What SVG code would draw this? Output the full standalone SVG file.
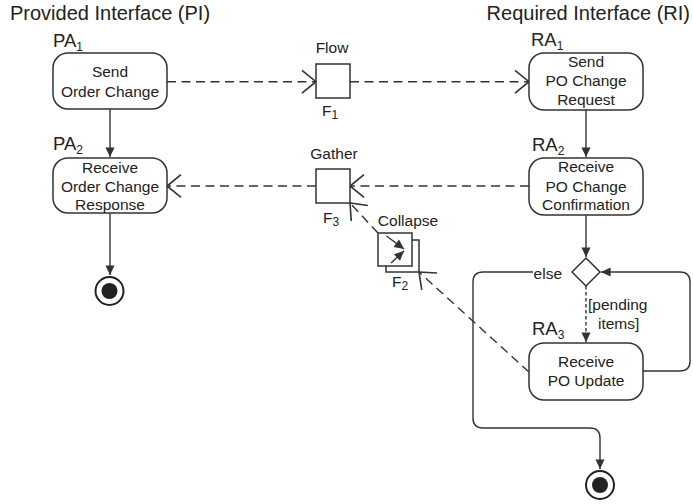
<svg xmlns="http://www.w3.org/2000/svg" width="693" height="504" viewBox="0 0 693 504">
<defs>
<style>
text{font-family:"Liberation Sans",Arial,sans-serif;fill:#222}
.t{font-size:15.5px;text-anchor:middle}
.h{font-size:20px}
.lab{font-size:18.5px}
.sub{font-size:12px}
.box{fill:#fff;stroke:#333;stroke-width:1.5}
.sq{fill:#fff;stroke:#333;stroke-width:1.5}
.ln{fill:none;stroke:#333;stroke-width:1.4}
.ds{fill:none;stroke:#333;stroke-width:1.4;stroke-dasharray:9 5.5}
.ds2{fill:none;stroke:#333;stroke-width:1.4;stroke-dasharray:3.5 2.5}
</style>
<marker id="fa" markerUnits="userSpaceOnUse" markerWidth="12" markerHeight="12" viewBox="-9 -5 10 10" refX="0" refY="0" orient="auto">
<path d="M-8,-3.8 L0,0 L-8,3.8 Z" fill="#333" stroke="none"/>
</marker>
<marker id="oa" markerUnits="userSpaceOnUse" markerWidth="20" markerHeight="28" viewBox="-16 -13 18 26" refX="0" refY="0" orient="auto">
<path d="M-13,-10.5 L0,0 L-13,10.5" fill="none" stroke="#333" stroke-width="1.5" stroke-dasharray="none"/>
</marker>
</defs>

<text class="h" x="10" y="20">Provided Interface (PI)</text>
<text class="h" x="690" y="20" text-anchor="end">Required Interface (RI)</text>

<g id="connectors">
<path class="ln" d="M110,109 V157" marker-end="url(#fa)"/>
<path class="ln" d="M110,213 V275" marker-end="url(#fa)"/>
<path class="ln" d="M586,110 V157" marker-end="url(#fa)"/>
<path class="ln" d="M586,215 V257" marker-end="url(#fa)"/>
<path class="ds2" d="M586,286 V342" marker-end="url(#fa)"/>
<path class="ln" d="M643,371 H680 Q690,371 690,361 V282 Q690,272 680,272 H601" marker-end="url(#fa)"/>
<path class="ln" d="M533,272 H483 Q473,272 473,282 V418 Q473,428 483,428 H590 Q600,428 600,438 V469" marker-end="url(#fa)"/>
<path class="ds" d="M167,81.7 H316" marker-end="url(#oa)"/>
<path class="ds" d="M350,81.7 H529" marker-end="url(#oa)"/>
<path class="ds" d="M529,186 H350" marker-end="url(#oa)"/>
<path class="ds" d="M316,186 H167" marker-end="url(#oa)"/>
<path class="ds" d="M378,233 L350,203" marker-end="url(#oa)"/>
<path class="ds" d="M529,372 L419,272" marker-end="url(#oa)"/>
</g>

<g id="PA1">
<text class="lab" x="53" y="46.5">PA<tspan class="sub" dy="4">1</tspan></text>
<rect class="box" x="53" y="53" width="114" height="56" rx="15"/>
<text class="t" x="110" y="77">Send</text>
<text class="t" x="110" y="97">Order Change</text>
</g>

<g id="PA2">
<text class="lab" x="53" y="149.5">PA<tspan class="sub" dy="4">2</tspan></text>
<rect class="box" x="53" y="158" width="114" height="55" rx="15"/>
<text class="t" x="110" y="172.5">Receive</text>
<text class="t" x="110" y="191.5">Order Change</text>
<text class="t" x="110" y="210">Response</text>
</g>

<g id="PI_final">
<circle cx="109.5" cy="291" r="14" fill="#fff" stroke="#222" stroke-width="2"/>
<circle cx="109.5" cy="291" r="8" fill="#222"/>
</g>

<g id="F1">
<text class="t" x="332" y="53">Flow</text>
<rect class="sq" x="316" y="64" width="34" height="34"/>
<text class="t" x="330" y="116" font-size="15">F<tspan class="sub" dy="3">1</tspan></text>
</g>

<g id="F3">
<text class="t" x="334" y="159">Gather</text>
<rect class="sq" x="316" y="169" width="34" height="34"/>
<text class="t" x="331" y="222.5">F<tspan class="sub" dy="3">3</tspan></text>
</g>

<g id="F2">
<text class="t" x="408" y="226" style="text-anchor:middle">Collapse</text>
<rect class="sq" x="386" y="240" width="33" height="32"/>
<rect class="sq" x="378" y="233" width="34" height="33"/>
<path class="ln" d="M386.5,236 L404,249" marker-end="url(#fa)"/>
<path class="ln" d="M391,263 L404,251" marker-end="url(#fa)"/>
<text class="t" x="400" y="287">F<tspan class="sub" dy="3">2</tspan></text>
</g>

<g id="RA1">
<text class="lab" x="531" y="45.5">RA<tspan class="sub" dy="4">1</tspan></text>
<rect class="box" x="529" y="53" width="114" height="57" rx="15"/>
<text class="t" x="586" y="67">Send</text>
<text class="t" x="586" y="86">PO Change</text>
<text class="t" x="586" y="105">Request</text>
</g>

<g id="RA2">
<text class="lab" x="532" y="150.5">RA<tspan class="sub" dy="4">2</tspan></text>
<rect class="box" x="529" y="158" width="114" height="57" rx="15"/>
<text class="t" x="586" y="172">Receive</text>
<text class="t" x="586" y="191.5">PO Change</text>
<text class="t" x="586" y="210">Confirmation</text>
</g>

<g id="decision">
<polygon points="586,258 600,272 586,286 572,272" fill="#fff" stroke="#333" stroke-width="1.5"/>
<text x="562" y="278.5" font-size="15.5" text-anchor="end">else</text>
<text x="588" y="310" font-size="15.5">[pending</text>
<text x="598" y="328.5" font-size="15.5">items]</text>
</g>

<g id="RA3">
<text class="lab" x="532" y="335">RA<tspan class="sub" dy="4">3</tspan></text>
<rect class="box" x="529" y="343" width="114" height="57" rx="15"/>
<text class="t" x="586" y="367">Receive</text>
<text class="t" x="586" y="386">PO Update</text>
</g>

<g id="RI_final">
<circle cx="600" cy="485" r="14" fill="#fff" stroke="#222" stroke-width="2"/>
<circle cx="600" cy="485" r="8" fill="#222"/>
</g>
</svg>
